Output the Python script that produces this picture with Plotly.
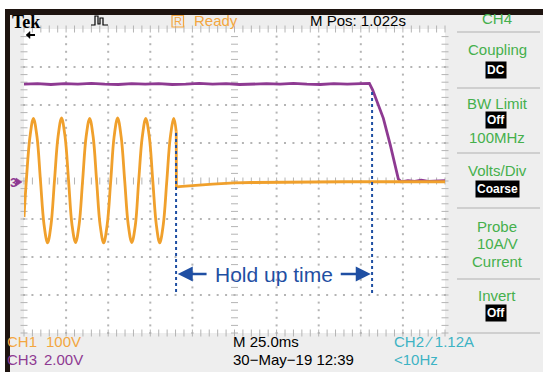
import plotly.graph_objects as go
import numpy as np

# ---- Channel readouts (time in ms, amplitude in screen divisions) ----
# CH1: line voltage, 100 V/div, drops out at ~90 ms
ch1_t = [0.0, 1.4, 3.5, 5.6, 7.7, 9.8, 11.9, 14.0, 16.0, 18.1, 20.2, 22.3,
         24.4, 26.5, 28.5, 30.6, 32.7, 34.8, 36.9, 39.0, 41.1, 43.1, 45.2,
         47.3, 49.4, 51.5, 53.5, 55.6, 57.7, 59.8, 61.9, 64.0, 66.1, 68.1,
         70.2, 72.3, 74.4, 76.5, 78.6, 80.6, 82.7, 84.8, 86.9, 89.0, 90.4,
         90.5, 92.0, 96.0, 100.0, 106.0, 112.0, 118.0, 125.0, 135.0, 150.0,
         170.0, 190.0, 210.0, 230.0, 250.0]
ch1_v = [-0.95, 0.02, 1.15, 1.65, 1.17, 0.00, -1.15, -1.63, -1.17, 0.01, 1.16, 1.66,
         1.16, -0.01, -1.15, -1.62, -1.16, 0.00, 1.17, 1.65, 1.15, 0.02, -1.16,
         -1.63, -1.15, 0.00, 1.16, 1.66, 1.16, 0.01, -1.15, -1.62, -1.17, 0.00,
         1.15, 1.65, 1.17, -0.01, -1.16, -1.63, -1.15, 0.00, 1.16, 1.65, 1.30,
         -0.16, -0.15, -0.14, -0.12, -0.10, -0.08, -0.06, -0.05, -0.04, -0.03,
         -0.03, -0.02, -0.02, -0.02, -0.02]
ch1_cut = 45  # first sample after the input is removed

# CH3: output rail, 2.00 V/div
ch3_t = [0, 8, 16, 24, 32, 40, 48, 56, 64, 72, 80, 88, 96, 104, 112, 120, 128,
         136, 144, 152, 160, 168, 176, 184, 192, 200, 205.1, 207.0, 209.4,
         213.4, 217.5, 221.0, 222.3, 224, 228, 232, 236, 240, 245, 250]
ch3_v = [2.55, 2.56, 2.54, 2.56, 2.55, 2.57, 2.55, 2.54, 2.56, 2.55, 2.56, 2.54,
         2.55, 2.57, 2.55, 2.56, 2.54, 2.55, 2.56, 2.55, 2.57, 2.55, 2.54, 2.56,
         2.55, 2.56, 2.57, 2.40, 2.13, 1.65, 0.95, 0.30, 0.05, -0.02, 0.01,
         -0.01, 0.02, -0.01, 0.00, 0.01]

hold_start_ms = 90.3
hold_end_ms = 206.7
hold_top_start = 1.26
hold_top_end = 2.34
hold_bottom = -3.0
arrow_y = -2.45

# ---- Screen geometry ----
W, H = 543, 372
L, R, T, B = 24, 445, 29, 333
T_MAX = 250.0        # 10 div x 25 ms
V_MIN, V_MAX = -4, 4

ORANGE = "#f0a02c"
PURPLE = "#8e3a92"
BLUE = "#1f4fa3"
GREEN = "#45b04c"
TEAL = "#3db3c4"
GRID = "#b4b4b4"
PANEL = "#eeeeee"


def px(x):
    return (x - L) / (R - L)


def py(y):
    return (B - y) / (B - T)


fig = go.Figure()

# graticule: dotted major lines, ticks on the centre cross and edges
maj_t = np.arange(0, T_MAX + 0.1, 25.0)
maj_v = np.arange(V_MIN, V_MAX + 0.1, 1.0)
min_t = np.arange(0, T_MAX + 0.1, 5.0)
min_v = np.arange(V_MIN, V_MAX + 0.01, 0.2)

dx, dy = [], []
for t in maj_t[1:-1]:
    if abs(t - 125) > 1e-6:
        dx += [t] * len(min_v)
        dy += list(min_v)
for v in maj_v[1:-1]:
    if abs(v) > 1e-6:
        dx += list(min_t)
        dy += [v] * len(min_t)
fig.add_trace(go.Scatter(x=dx, y=dy, mode="markers", hoverinfo="skip",
                         marker=dict(symbol="square", size=2, color=GRID),
                         cliponaxis=False, showlegend=False))

# horizontal ticks along vertical lines (centre and left/right edges)
tx, ty = [], []
for t in (0, 125, T_MAX):
    tx += [t] * len(min_v)
    ty += list(min_v)
fig.add_trace(go.Scatter(x=tx, y=ty, mode="markers", hoverinfo="skip",
                         marker=dict(symbol="line-ew", size=5,
                                     line=dict(width=1, color=GRID)),
                         cliponaxis=False, showlegend=False))
# vertical ticks along horizontal lines (centre and top/bottom edges)
ux, uy = [], []
for v in (V_MIN, 0, V_MAX):
    ux += list(min_t)
    uy += [v] * len(min_t)
fig.add_trace(go.Scatter(x=ux, y=uy, mode="markers", hoverinfo="skip",
                         marker=dict(symbol="line-ns", size=5,
                                     line=dict(width=1, color=GRID)),
                         cliponaxis=False, showlegend=False))

# CH3 trace
fig.add_trace(go.Scatter(x=ch3_t, y=ch3_v, mode="lines", showlegend=False,
                         line=dict(color=PURPLE, width=2.8)))
# CH1 trace: sine part, then the collapsed part after the cut
fig.add_trace(go.Scatter(x=ch1_t[:ch1_cut], y=ch1_v[:ch1_cut], mode="lines",
                         showlegend=False,
                         line=dict(color=ORANGE, width=2.8, shape="spline",
                                   smoothing=1.0)))
fig.add_trace(go.Scatter(x=ch1_t[ch1_cut - 1:], y=ch1_v[ch1_cut - 1:],
                         mode="lines", showlegend=False,
                         line=dict(color=ORANGE, width=2.8)))

# hold-up cursors
for t0, top in ((hold_start_ms, hold_top_start), (hold_end_ms, hold_top_end)):
    fig.add_trace(go.Scatter(x=[t0, t0], y=[top, hold_bottom], mode="lines",
                             showlegend=False,
                             line=dict(color=BLUE, width=2, dash="3px,3px")))

annotations = []
# hold-up label with arrows
annotations.append(dict(x=(hold_start_ms + hold_end_ms) / 2, y=arrow_y,
                        xref="x", yref="y", text="Hold up time",
                        showarrow=False,
                        font=dict(family="Liberation Sans", size=21, color=BLUE)))
annotations.append(dict(x=hold_start_ms + 1.0, y=arrow_y, ax=hold_start_ms + 19.0,
                        ay=arrow_y, xref="x", yref="y", axref="x", ayref="y",
                        text="", showarrow=True, arrowhead=2, arrowsize=1.2,
                        arrowwidth=2.5, arrowcolor=BLUE))
annotations.append(dict(x=hold_end_ms - 0.8, y=arrow_y, ax=hold_end_ms - 19.5,
                        ay=arrow_y, xref="x", yref="y", axref="x", ayref="y",
                        text="", showarrow=True, arrowhead=2, arrowsize=1.2,
                        arrowwidth=2.5, arrowcolor=BLUE))


def label(text, x, y, color="black", size=14, family="Liberation Sans",
          anchor="left", bold=False, bg=None):
    a = dict(x=px(x), y=py(y), xref="paper", yref="paper", text=text,
             showarrow=False, xanchor=anchor, yanchor="middle",
             font=dict(family=family, size=size, color=color))
    if bold:
        a["text"] = "<b>" + text + "</b>"
    if bg:
        a["bgcolor"] = bg
        a["borderpad"] = 1
    annotations.append(a)


# header
label("Tek", 10, 22, size=18, family="Liberation Serif", bold=True)
label("Ready", 192, 20, color="#f3a640", size=15)
label("R", 177.5, 20.5, color="#f3a640", size=11, anchor="center")
label("M Pos: 1.022s", 308, 20, size=15)
label("CH4", 497, 19, color=GREEN, size=15, anchor="center")

# side menu
INV = "Liberation Sans"
label("Coupling", 497, 50, color=GREEN, size=15, anchor="center")
label("DC", 496, 70, color="white", size=12, family=INV,
      anchor="center", bold=True, bg="black")
label("BW Limit", 497, 103, color=GREEN, size=15, anchor="center")
label("Off", 496, 120, color="white", size=12, family=INV,
      anchor="center", bold=True, bg="black")
label("100MHz", 497, 137, color=GREEN, size=15, anchor="center")
label("Volts/Div", 497, 170, color=GREEN, size=15, anchor="center")
label("Coarse", 497, 189, color="white", size=12, family=INV,
      anchor="center", bold=True, bg="black")
label("Probe", 497, 226, color=GREEN, size=15, anchor="center")
label("10A/V", 497, 243, color=GREEN, size=15, anchor="center")
label("Current", 497, 261, color=GREEN, size=15, anchor="center")
label("Invert", 497, 295, color=GREEN, size=15, anchor="center")
label("Off", 496, 313, color="white", size=12, family=INV,
      anchor="center", bold=True, bg="black")

# bottom status line
label("CH1", 5, 341, color="#f3a640", size=15)
label("100V", 44, 341, color="#f3a640", size=15)
label("CH3", 5, 359, color=PURPLE, size=15)
label("2.00V", 42, 359, color=PURPLE, size=15)
label("M 25.0ms", 231, 341, size=15)
label("30\u2212May\u221219 12:39", 231, 359, size=15)
label("CH2 \u2215 1.12A", 392, 341, color=TEAL, size=15)
label("<10Hz", 392, 359, color=TEAL, size=15)

# CH3 ground marker number
label("3", 8, 182, color=PURPLE, size=13, bold=True)

shapes = []


def rect(x0, y0, x1, y1, fill, line=None):
    shapes.append(dict(type="rect", xref="paper", yref="paper",
                       x0=px(x0), x1=px(x1), y0=py(y1), y1=py(y0),
                       fillcolor=fill, line=dict(width=0 if line is None else 1,
                                                 color=line or fill),
                       layer="below"))


def poly(points, fill=None, color="black", width=1.2, closed=False):
    path = "M " + " L ".join(f"{px(a)},{py(b)}" for a, b in points)
    if closed:
        path += " Z"
    s = dict(type="path", xref="paper", yref="paper", path=path,
             line=dict(color=color, width=width))
    if fill:
        s["fillcolor"] = fill
    shapes.append(s)


# outer frame
rect(0, 0, W, 9, "white")
rect(0, 0, 5, H, "white")
rect(5, 9, W, 15, "#1e1410")
rect(5, 9, 10, H, "#1e1410")
# ground marker arrow of CH3
poly([(16, 178), (22, 182), (16, 186)], fill=PURPLE, color=PURPLE, width=0.5,
     closed=True)
# trigger position marker (left-pointing arrow at the top of the screen)
poly([(28, 35), (35, 35)], width=2)
poly([(26, 35), (30, 31.5), (30, 38.5)], fill="black", width=0.5, closed=True)
# 'R' box in the header
shapes.append(dict(type="rect", xref="paper", yref="paper",
                   x0=px(172), x1=px(183.5), y0=py(27), y1=py(15.5),
                   line=dict(color="#f3a640", width=1.2)))
# trigger icon
poly([(91, 25), (95, 25), (95, 16), (98, 16), (98, 24), (100, 24),
      (100, 18), (103, 18), (103, 25), (108, 25)])
# side menu separators
for ys in (32, 88, 153, 208, 279, 333):
    shapes.append(dict(type="line", xref="paper", yref="paper",
                       x0=px(457), x1=px(540), y0=py(ys), y1=py(ys),
                       line=dict(color="#c4c4c4", width=1.5)))

fig.update_layout(
    width=W, height=H,
    margin=dict(l=L, r=W - R, t=T, b=H - B, pad=0),
    paper_bgcolor=PANEL, plot_bgcolor="white",
    xaxis=dict(range=[0, T_MAX], visible=False, fixedrange=True),
    yaxis=dict(range=[V_MIN, V_MAX], visible=False, fixedrange=True),
    annotations=annotations, shapes=shapes, showlegend=False,
)

fig.write_html("out.html")
